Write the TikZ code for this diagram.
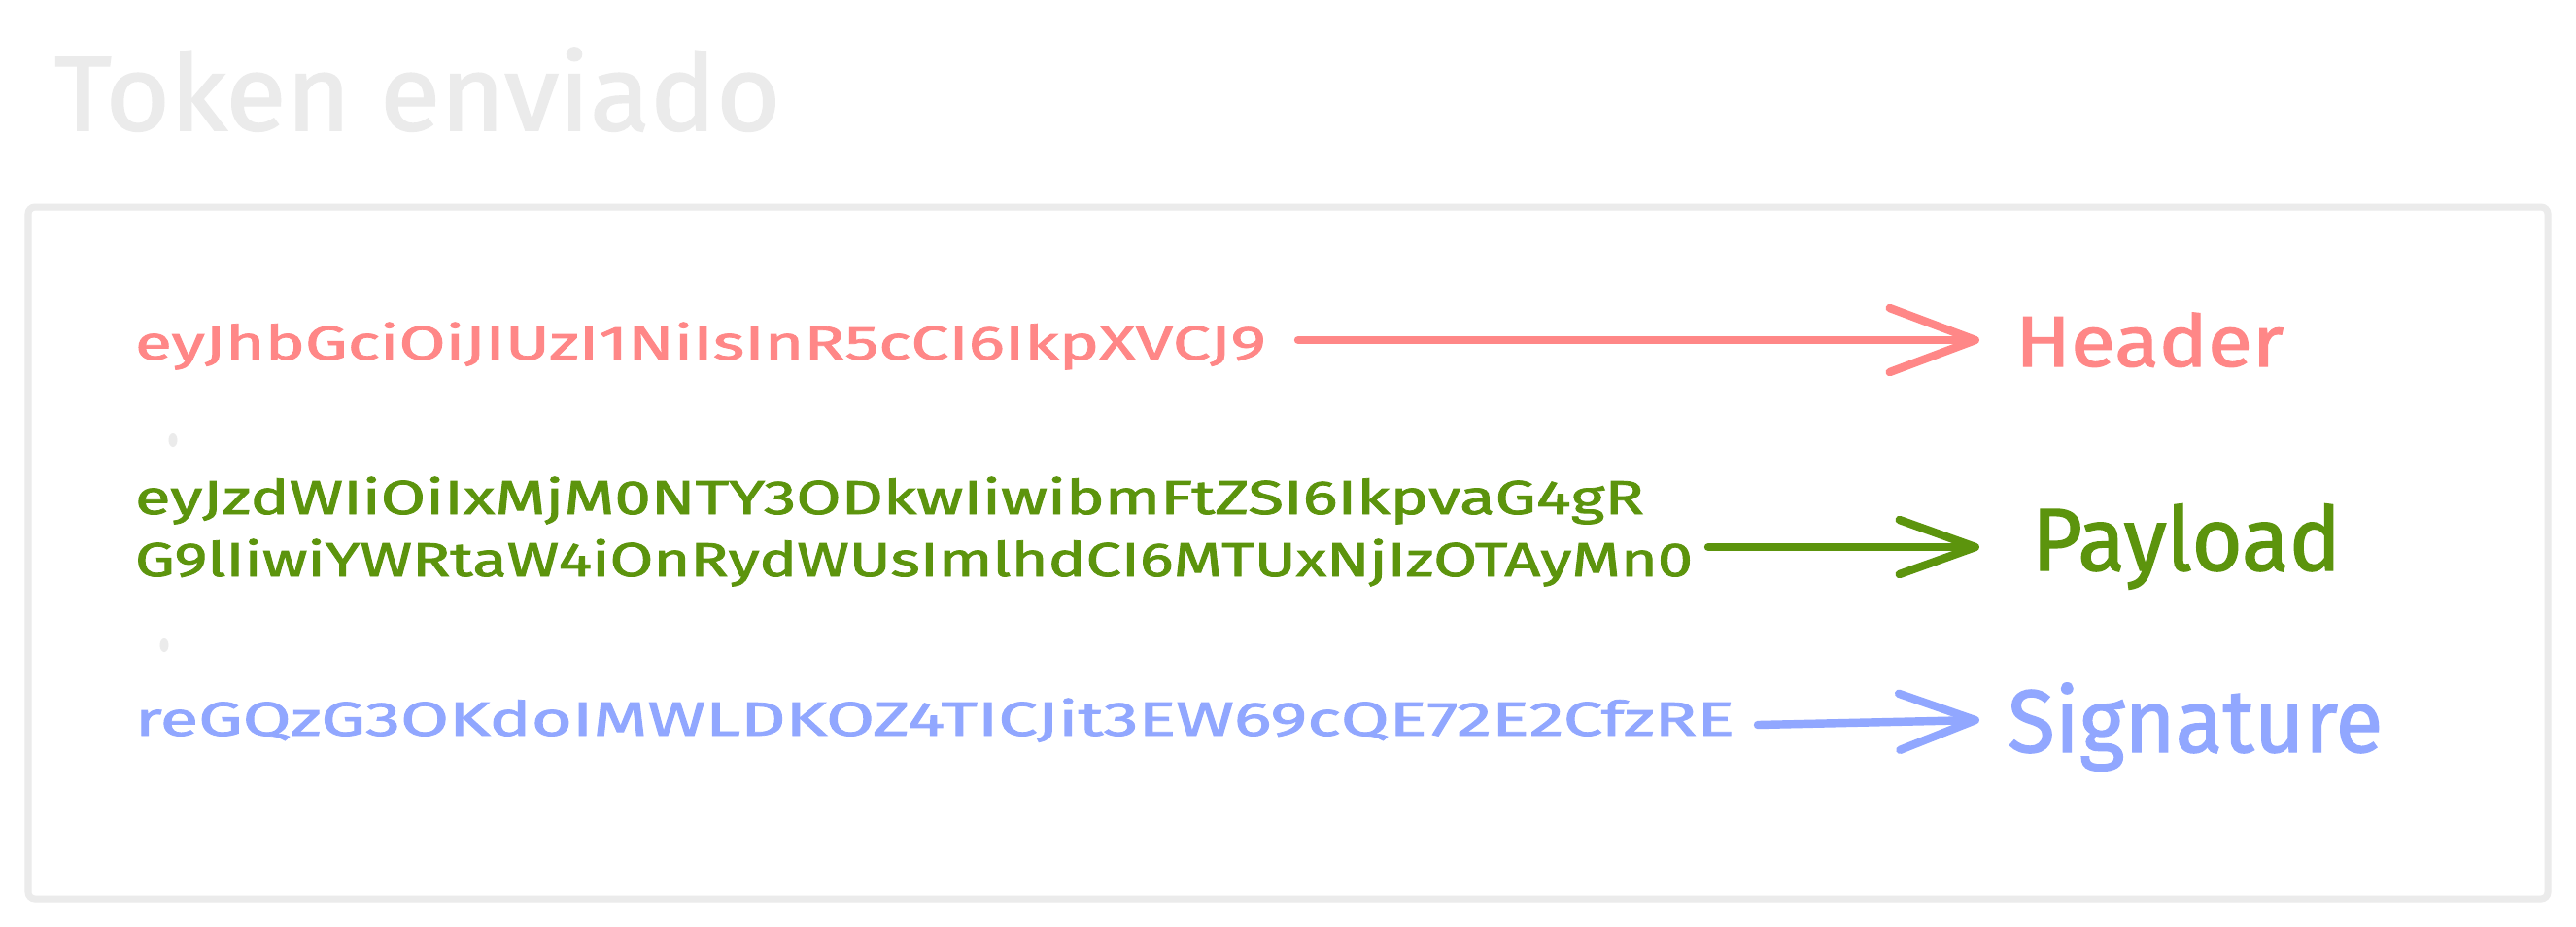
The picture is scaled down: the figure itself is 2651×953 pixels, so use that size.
\documentclass[tikz,border=0pt]{standalone}
\usepackage{fontspec}
\setmainfont{Fira Sans}
\newfontfamily\thk{Fira Sans}[FakeBold=1.5]
\usetikzlibrary{arrows.meta}
\definecolor{lgray}{HTML}{EBEBEB}
\definecolor{hred}{HTML}{FF8787}
\definecolor{pgreen}{HTML}{5C940D}
\definecolor{sblue}{HTML}{91A7FF}
\newcommand\fitw[2]{\resizebox{#1}{\height}{#2}}
\tikzset{
  txt/.style={inner sep=0pt, outer sep=0pt, anchor=base west},
  tok/.style={txt, font=\thk\fontsize{14}{16}\selectfont},
  lbl/.style={txt},
  conn/.style={line width=2.4pt, line cap=round},
}
\begin{document}
\begin{tikzpicture}[x=0.01cm, y=-0.01cm]
\useasboundingbox (0,0) rectangle (2651,953);
\fill[white] (0,0) rectangle (2651,953);
% title
\node[txt, text=lgray, font=\thk\fontsize{31}{34}\selectfont] (title) at (56,134) {\fitw{7.47cm}{Token enviado}};
% frame
\draw[lgray, line width=2pt, rounded corners=2pt] (29,213) rectangle (2622,925);
% header
\node[tok, text=hred] (htok) at (139,370) {\fitw{11.63cm}{eyJhbGciOiJIUzI1NiIsInR5cCI6IkpXVCJ9}};
\node[lbl, text=hred, font=\thk\fontsize{21}{24}\selectfont] (hlbl) at (2074,377) {\fitw{2.76cm}{Header}};
\coordinate (hs) at (1336,350);
\coordinate (he) at (2037,350);
\draw[conn, hred, -{Straight Barb[length=0.88cm, width=0.66cm, round]}] (hs) -- (he);
% dots
\fill[lgray] (178,453) ellipse [x radius=0.045cm, y radius=0.07cm];
\fill[lgray] (169,664) ellipse [x radius=0.045cm, y radius=0.07cm];
% payload
\node[tok, text=pgreen] (ptok1) at (139,529) {\fitw{15.52cm}{eyJzdWIiOiIxMjM0NTY3ODkwIiwibmFtZSI6IkpvaG4gR}};
\node[tok, text=pgreen] (ptok2) at (139,593) {\fitw{16.02cm}{G9lIiwiYWRtaW4iOnRydWUsImlhdCI6MTUxNjIzOTAyMn0}};
\node[lbl, text=pgreen, font=\thk\fontsize{26}{30}\selectfont] (plbl) at (2091,587) {\fitw{3.18cm}{Payload}};
\coordinate (ps) at (1758,563);
\coordinate (pe) at (2037,563);
\draw[conn, pgreen, -{Straight Barb[length=0.78cm, width=0.56cm, round]}] (ps) -- (pe);
% signature
\node[tok, text=sblue] (stok) at (139,757) {\fitw{16.45cm}{reGQzG3OKdoIMWLDKOZ4TICJit3EW69cQE72E2CfzRE}};
\node[lbl, text=sblue, font=\thk\fontsize{26}{30}\selectfont] (slbl) at (2066,774) {\fitw{3.86cm}{Signature}};
\coordinate (ss) at (1809,746);
\coordinate (se) at (2037,741);
\draw[conn, sblue, -{Straight Barb[length=0.78cm, width=0.58cm, round]}] (ss) -- (se);
\end{tikzpicture}
\end{document}
